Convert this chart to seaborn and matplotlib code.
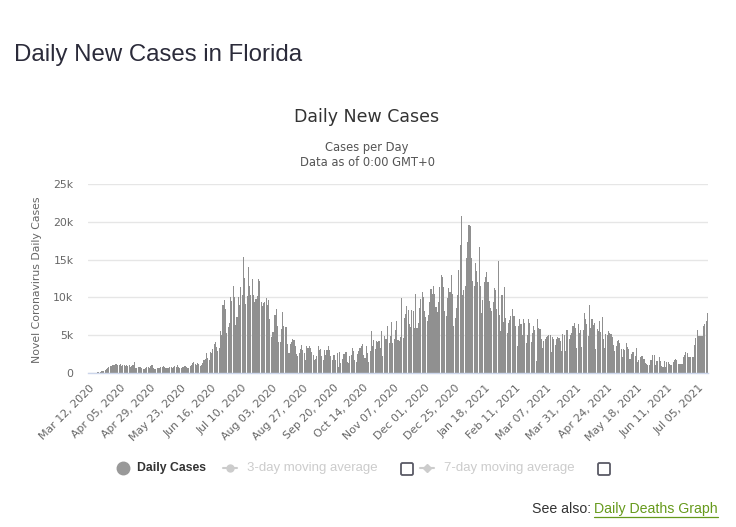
import matplotlib
matplotlib.use("Agg")
import matplotlib.pyplot as plt
import matplotlib.transforms as mtransforms
from matplotlib.lines import Line2D
from matplotlib.patches import FancyBboxPatch
import pandas as pd
import seaborn as sns

# ---------------- data (daily new cases) ----------------
start_date = "2020-03-12"
cases_2020_03 = [10, 12, 20, 25, 40, 50, 60, 80, 100, 120, 280, 300, 250, 450, 520, 600, 740, 870, 950, 1000]
cases_2020_04 = [1050, 1150, 1230, 1100, 1000, 1170, 870, 1050, 1000, 950, 1100, 900, 1050, 800, 900, 1000,
                 1390, 700, 650, 750, 850, 780, 600, 520, 560, 700, 750, 800, 650, 900]
cases_2020_05 = [1000, 700, 550, 520, 650, 700, 600, 800, 750, 900, 850, 650, 600, 700, 750, 800, 700, 850,
                 900, 750, 1090, 800, 700, 650, 750, 850, 900, 750, 700, 650, 900]
cases_2020_06 = [1000, 1300, 1390, 1200, 1050, 1270, 1180, 970, 1100, 1370, 1700, 1900, 2580, 2020, 1760,
                 2780, 2610, 3210, 3820, 4050, 3490, 2930, 3290, 5510, 5000, 8940, 9590, 8530, 5270, 6090]
cases_2020_07 = [6560, 10110, 9490, 11460, 10060, 6340, 7350, 9990, 8940, 11430, 10360, 15300, 12620, 9190,
                 10180, 13970, 11470, 10330, 12480, 10350, 9440, 9790, 10250, 12440, 12200, 9340, 8890, 9230,
                 9450, 9960, 9010]
cases_2020_08 = [9640, 7100, 4750, 5450, 5410, 7650, 8500, 6230, 4160, 4160, 5830, 8110, 6240, 6150, 6110,
                 3780, 2680, 3840, 4120, 4560, 4310, 3520, 2570, 2260, 2670, 3220, 3650, 3080, 2630, 1740, 3610]
cases_2020_09 = [3300, 3520, 3300, 2800, 2410, 1740, 1830, 2270, 3520, 3080, 3200, 2270, 1740, 2990, 2410,
                 3080, 3520, 2990, 2190, 1740, 2410, 2410, 1740, 2630, 760, 2720, 1290, 1830, 2540, 2540]
cases_2020_10 = [2720, 1520, 1290, 2190, 2410, 3300, 2850, 1740, 1520, 2540, 2850, 3300, 3520, 3880, 2410,
                 1960, 3610, 2600, 1520, 2900, 5530, 3610, 4420, 3170, 4190, 4150, 4190, 3300, 5530, 2270, 4860]
cases_2020_11 = [4500, 4500, 6200, 3970, 4950, 6730, 3970, 4500, 5750, 6820, 4410, 4190, 4800, 9880, 4610,
                 7240, 7770, 8870, 8340, 6450, 6150, 8340, 8210, 6010, 10450, 6010, 6590, 8650, 9790, 10670]
cases_2020_12 = [10100, 8210, 7460, 6900, 7680, 9440, 11110, 10400, 11500, 10490, 8780, 8120, 9350, 11330,
                 12950, 12730, 11410, 8210, 7600, 9880, 11280, 10760, 12950, 10400, 6280, 7330, 8560, 10320,
                 13610, 16900, 20720]
cases_2021_01 = [10350, 11000, 11500, 15230, 17300, 19600, 19400, 15230, 12200, 11500, 14600, 13500, 12000,
                 16700, 11500, 7900, 9600, 12000, 12700, 13400, 12100, 9500, 8600, 8200, 9400, 11200, 10980,
                 8400, 14800, 7700, 5600]
cases_2021_02 = [10300, 6800, 11400, 7300, 5300, 6650, 7000, 7540, 8430, 7540, 7540, 6200, 3520, 6200, 7090,
                 6500, 5090, 7180, 6650, 3970, 5090, 7090, 6650, 4060, 5300, 6200, 5660, 1600]
cases_2021_03 = [7090, 5980, 5840, 4500, 3300, 4190, 4500, 4700, 4950, 5090, 5090, 2720, 4770, 4500, 3700,
                 4500, 4770, 4640, 4280, 2850, 5220, 5090, 2850, 5660, 5750, 4500, 4990, 5300, 6200, 6650, 6000]
cases_2021_04 = [3300, 6420, 5300, 5750, 3390, 5750, 7900, 7090, 6510, 4860, 8960, 6000, 7180, 6290, 6650,
                 3170, 5840, 5530, 6870, 5400, 7400, 4460, 3300, 5170, 5040, 5530, 5310, 5130, 4800, 3690]
cases_2021_05 = [2900, 3600, 4210, 4350, 3910, 3120, 2060, 3120, 3030, 4000, 3380, 3120, 1890, 2500, 2770,
                 2810, 2240, 3340, 1400, 1710, 2060, 2280, 2280, 1800, 1360, 1190, 1050, 1050, 1710, 1710, 2370]
cases_2021_06 = [2370, 1050, 1580, 1580, 2060, 1580, 920, 830, 1580, 830, 1450, 1450, 1200, 1050, 1050, 1450,
                 1710, 1800, 1710, 1140, 1140, 1140, 1140, 2150, 2370, 2720, 2590, 2150, 2150, 2150]
cases_2021_07 = [2150, 2150, 3690, 4650, 5660, 4870, 4870, 4870, 4870, 6190, 6540, 6890, 8000]

tick_labels = ["Mar 12, 2020", "Apr 05, 2020", "Apr 29, 2020", "May 23, 2020", "Jun 16, 2020",
               "Jul 10, 2020", "Aug 03, 2020", "Aug 27, 2020", "Sep 20, 2020", "Oct 14, 2020",
               "Nov 07, 2020", "Dec 01, 2020", "Dec 25, 2020", "Jan 18, 2021", "Feb 11, 2021",
               "Mar 07, 2021", "Mar 31, 2021", "Apr 24, 2021", "May 18, 2021", "Jun 11, 2021",
               "Jul 05, 2021"]
tick_step = 24
y_ticks = [0, 5000, 10000, 15000, 20000, 25000]
y_tick_labels = ["0", "5k", "10k", "15k", "20k", "25k"]

daily = (cases_2020_03 + cases_2020_04 + cases_2020_05 + cases_2020_06 + cases_2020_07 + cases_2020_08 +
         cases_2020_09 + cases_2020_10 + cases_2020_11 + cases_2020_12 + cases_2021_01 + cases_2021_02 +
         cases_2021_03 + cases_2021_04 + cases_2021_05 + cases_2021_06 + cases_2021_07)
dates = pd.date_range(start_date, periods=len(daily), freq="D")
df = pd.DataFrame({"date": dates.strftime("%Y-%m-%d"), "cases": daily})

# ---------------- figure ----------------
W, H = 736, 527
sns.set_theme(style="white")
plt.rcParams["font.family"] = ["DejaVu Sans"]
fig = plt.figure(figsize=(W / 100, H / 100), dpi=100)
fig.patch.set_facecolor("white")


def fx(x):
    return x / W


def fy(y):
    return 1 - y / H


ax = fig.add_axes([fx(88), fy(373), 620 / W, 189 / H])
sns.barplot(data=df, x="date", y="cases", color="#909090", saturation=1, width=0.85,
            errorbar=None, linewidth=0, ax=ax)

ax.set_xlim(-0.5, len(daily) - 0.5)
ax.set_ylim(0, 25000)
ax.set_yticks(y_ticks)
ax.set_yticklabels(y_tick_labels)
ax.set_xticks(list(range(0, len(daily), tick_step))[:len(tick_labels)])
ax.set_xticklabels(tick_labels)
ax.set_xlabel("")
ax.set_ylabel("")

ax.yaxis.grid(True, color="#e6e6e6", linewidth=1.0)
ax.xaxis.grid(False)
ax.set_axisbelow(True)
for s in ["top", "right", "left"]:
    ax.spines[s].set_visible(False)
ax.spines["bottom"].set_color("#ccd6eb")
ax.spines["bottom"].set_linewidth(1.0)

ax.tick_params(axis="y", length=0, pad=10.5, labelsize=7.8, labelcolor="#666666")
ax.tick_params(axis="x", length=0, pad=7, labelsize=7.9, labelcolor="#666666")
offset = mtransforms.ScaledTranslation(1 / 100, 0, fig.dpi_scale_trans)
for lab in ax.get_xticklabels():
    lab.set_rotation(45)
    lab.set_ha("right")
    lab.set_va("top")
    lab.set_rotation_mode("anchor")
    lab.set_transform(lab.get_transform() + offset)

# y axis title
fig.text(fx(37), fy(280), "Novel Coronavirus Daily Cases", rotation=90, ha="center", va="center",
         fontsize=7.8, color="#666666")

# titles
fig.text(fx(14), fy(55), "Daily New Cases in Florida", ha="left", va="center",
         fontsize=17.3, color="#2b2b3a", family=["Liberation Sans", "DejaVu Sans"])
fig.text(fx(367), fy(117), "Daily New Cases", ha="center", va="center", fontsize=12.5, color="#333333")
fig.text(fx(367), fy(147), "Cases per Day", ha="center", va="center", fontsize=8.3, color="#555555")
fig.text(fx(367), fy(162), "Data as of 0:00 GMT+0", ha="center", va="center", fontsize=8.3, color="#555555")

# legend (manual, to follow the reference layout)
ly = fy(468)
fig.add_artist(Line2D([fx(123)], [ly], transform=fig.transFigure, marker="o", markersize=9,
                      color="#999999", linestyle=""))
fig.text(fx(137), ly, "Daily Cases", ha="left", va="center", fontsize=8.8, fontweight="bold",
         color="#333333", family=["Liberation Sans", "DejaVu Sans"])
fig.add_artist(Line2D([fx(223), fx(237)], [ly, ly], transform=fig.transFigure, color="#cccccc", lw=1.5))
fig.add_artist(Line2D([fx(230)], [ly], transform=fig.transFigure, marker="o", markersize=5,
                      color="#cccccc", linestyle=""))
fig.text(fx(247), ly, "3-day moving average", ha="left", va="center", fontsize=9.5,
         color="#cccccc", family=["Liberation Sans", "DejaVu Sans"])
fig.add_artist(Line2D([fx(420), fx(434)], [ly, ly], transform=fig.transFigure, color="#cccccc", lw=1.5))
fig.add_artist(Line2D([fx(427)], [ly], transform=fig.transFigure, marker="D", markersize=4.5,
                      color="#cccccc", linestyle=""))
fig.text(fx(444), ly, "7-day moving average", ha="left", va="center", fontsize=9.5,
         color="#cccccc", family=["Liberation Sans", "DejaVu Sans"])
for bx in (401, 598):
    fig.add_artist(FancyBboxPatch((bx / 100, (H - 475) / 100), 0.12, 0.12,
                                  boxstyle="round,pad=0,rounding_size=0.015",
                                  transform=fig.dpi_scale_trans, facecolor="white",
                                  edgecolor="#5a5a66", linewidth=1.3))

# see also
fig.text(fx(532), fy(509), "See also:", ha="left", va="center", fontsize=10.2, color="#333333",
         family=["Liberation Sans", "DejaVu Sans"])
fig.text(fx(594), fy(509), "Daily Deaths Graph", ha="left", va="center", fontsize=10.2, color="#669a1c",
         family=["Liberation Sans", "DejaVu Sans"])
fig.add_artist(Line2D([fx(594), fx(718)], [fy(517), fy(517)], transform=fig.transFigure,
                      color="#669a1c", lw=0.9))

fig.savefig("out.png", dpi=100, facecolor="white")
